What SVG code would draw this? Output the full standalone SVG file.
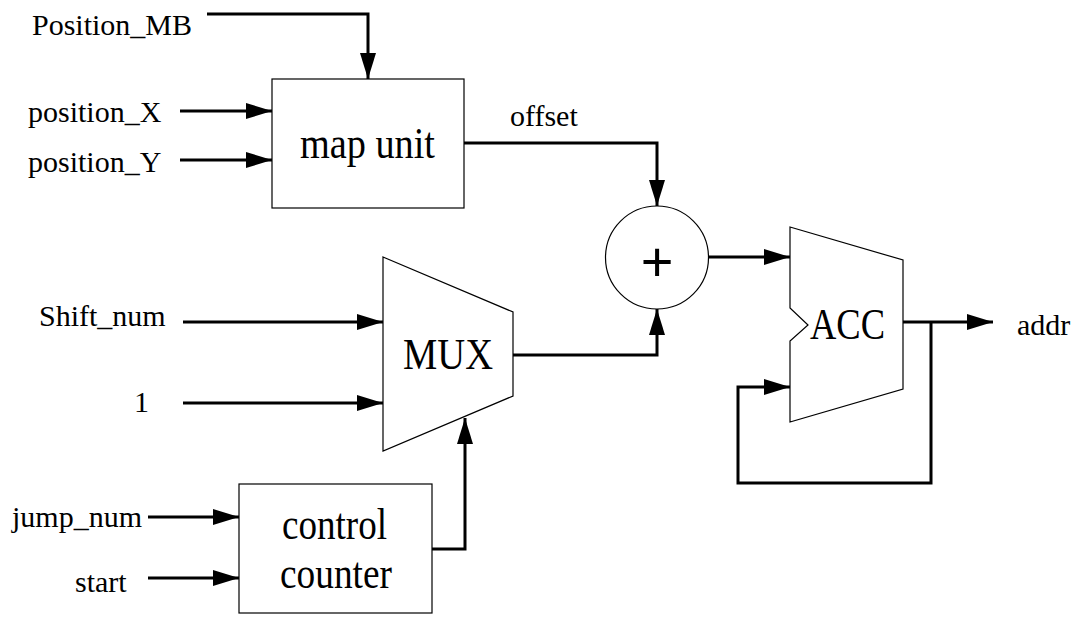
<svg xmlns="http://www.w3.org/2000/svg" width="1075" height="617" viewBox="0 0 1075 617">
  <style>
    .blk { fill: #fff; stroke: #000; stroke-width: 1.2; }
    .wire { fill: none; stroke: #000; stroke-width: 3; marker-end: url(#arr); }
    .sig { font-family: "Liberation Serif", "Times New Roman", serif; font-size: 30px; fill: #000; }
    .big { font-family: "Liberation Serif", "Times New Roman", serif; font-size: 44px; fill: #000; }
  </style>
  <defs>
    <marker id="arr" markerUnits="userSpaceOnUse" markerWidth="26" markerHeight="16" viewBox="0 0 26 16" refX="26" refY="8" orient="auto">
      <path d="M0,0 L26,8 L0,16 z" fill="#000"/>
    </marker>
  </defs>

  <rect width="1075" height="617" fill="#fff"/>

  <!-- connectors -->
  <g id="connectors">
    <path class="wire" d="M207,14 H368 V79"/>
    <path class="wire" d="M180,111 H272"/>
    <path class="wire" d="M180,160 H272"/>
    <path class="wire" d="M464,143 H657 V206"/>
    <path class="wire" d="M183,322 H383"/>
    <path class="wire" d="M183,403 H383"/>
    <path class="wire" d="M513,355 H657 V309"/>
    <path class="wire" d="M148,517 H239"/>
    <path class="wire" d="M148,578 H239"/>
    <path class="wire" d="M432,549 H465 V418"/>
    <path class="wire" d="M708,257 H790"/>
    <path class="wire" d="M903,322 H993"/>
    <path class="wire" d="M931,322 V483 H738 V387 H790"/>
  </g>

  <!-- map unit -->
  <g id="map-unit">
    <rect class="blk" x="272" y="79" width="192" height="129"/>
    <text class="big" x="300" y="158" textLength="135" lengthAdjust="spacingAndGlyphs">map unit</text>
  </g>

  <!-- adder -->
  <g id="adder">
    <circle class="blk" cx="657" cy="257.5" r="51.5"/>
    <text x="657" y="281" text-anchor="middle" font-family="Liberation Sans, Arial, sans-serif" font-size="56">+</text>
  </g>

  <!-- multiplexer -->
  <g id="mux">
    <polygon class="blk" points="383,257 513,312 513,396 383,451"/>
    <text class="big" x="403" y="369" textLength="90" lengthAdjust="spacingAndGlyphs">MUX</text>
  </g>

  <!-- accumulator -->
  <g id="acc">
    <polygon class="blk" points="790,227 903,260 903,389 790,422 790,341 808,325 790,308"/>
    <text class="big" x="810" y="339" textLength="75" lengthAdjust="spacingAndGlyphs">ACC</text>
  </g>

  <!-- control counter -->
  <g id="control-counter">
    <rect class="blk" x="239" y="484" width="193" height="129"/>
    <text class="big" x="282" y="539" textLength="105" lengthAdjust="spacingAndGlyphs">control</text>
    <text class="big" x="280" y="588" textLength="112" lengthAdjust="spacingAndGlyphs">counter</text>
  </g>

  <!-- signal labels -->
  <g id="labels">
    <text class="sig" x="32" y="35">Position_MB</text>
    <text class="sig" x="28" y="122">position_X</text>
    <text class="sig" x="28" y="172">position_Y</text>
    <text class="sig" x="510" y="126">offset</text>
    <text class="sig" x="39" y="326">Shift_num</text>
    <text class="sig" x="134" y="412">1</text>
    <text class="sig" x="12" y="527">jump_num</text>
    <text class="sig" x="75" y="592">start</text>
    <text class="sig" x="1017" y="335">addr</text>
  </g>
</svg>
